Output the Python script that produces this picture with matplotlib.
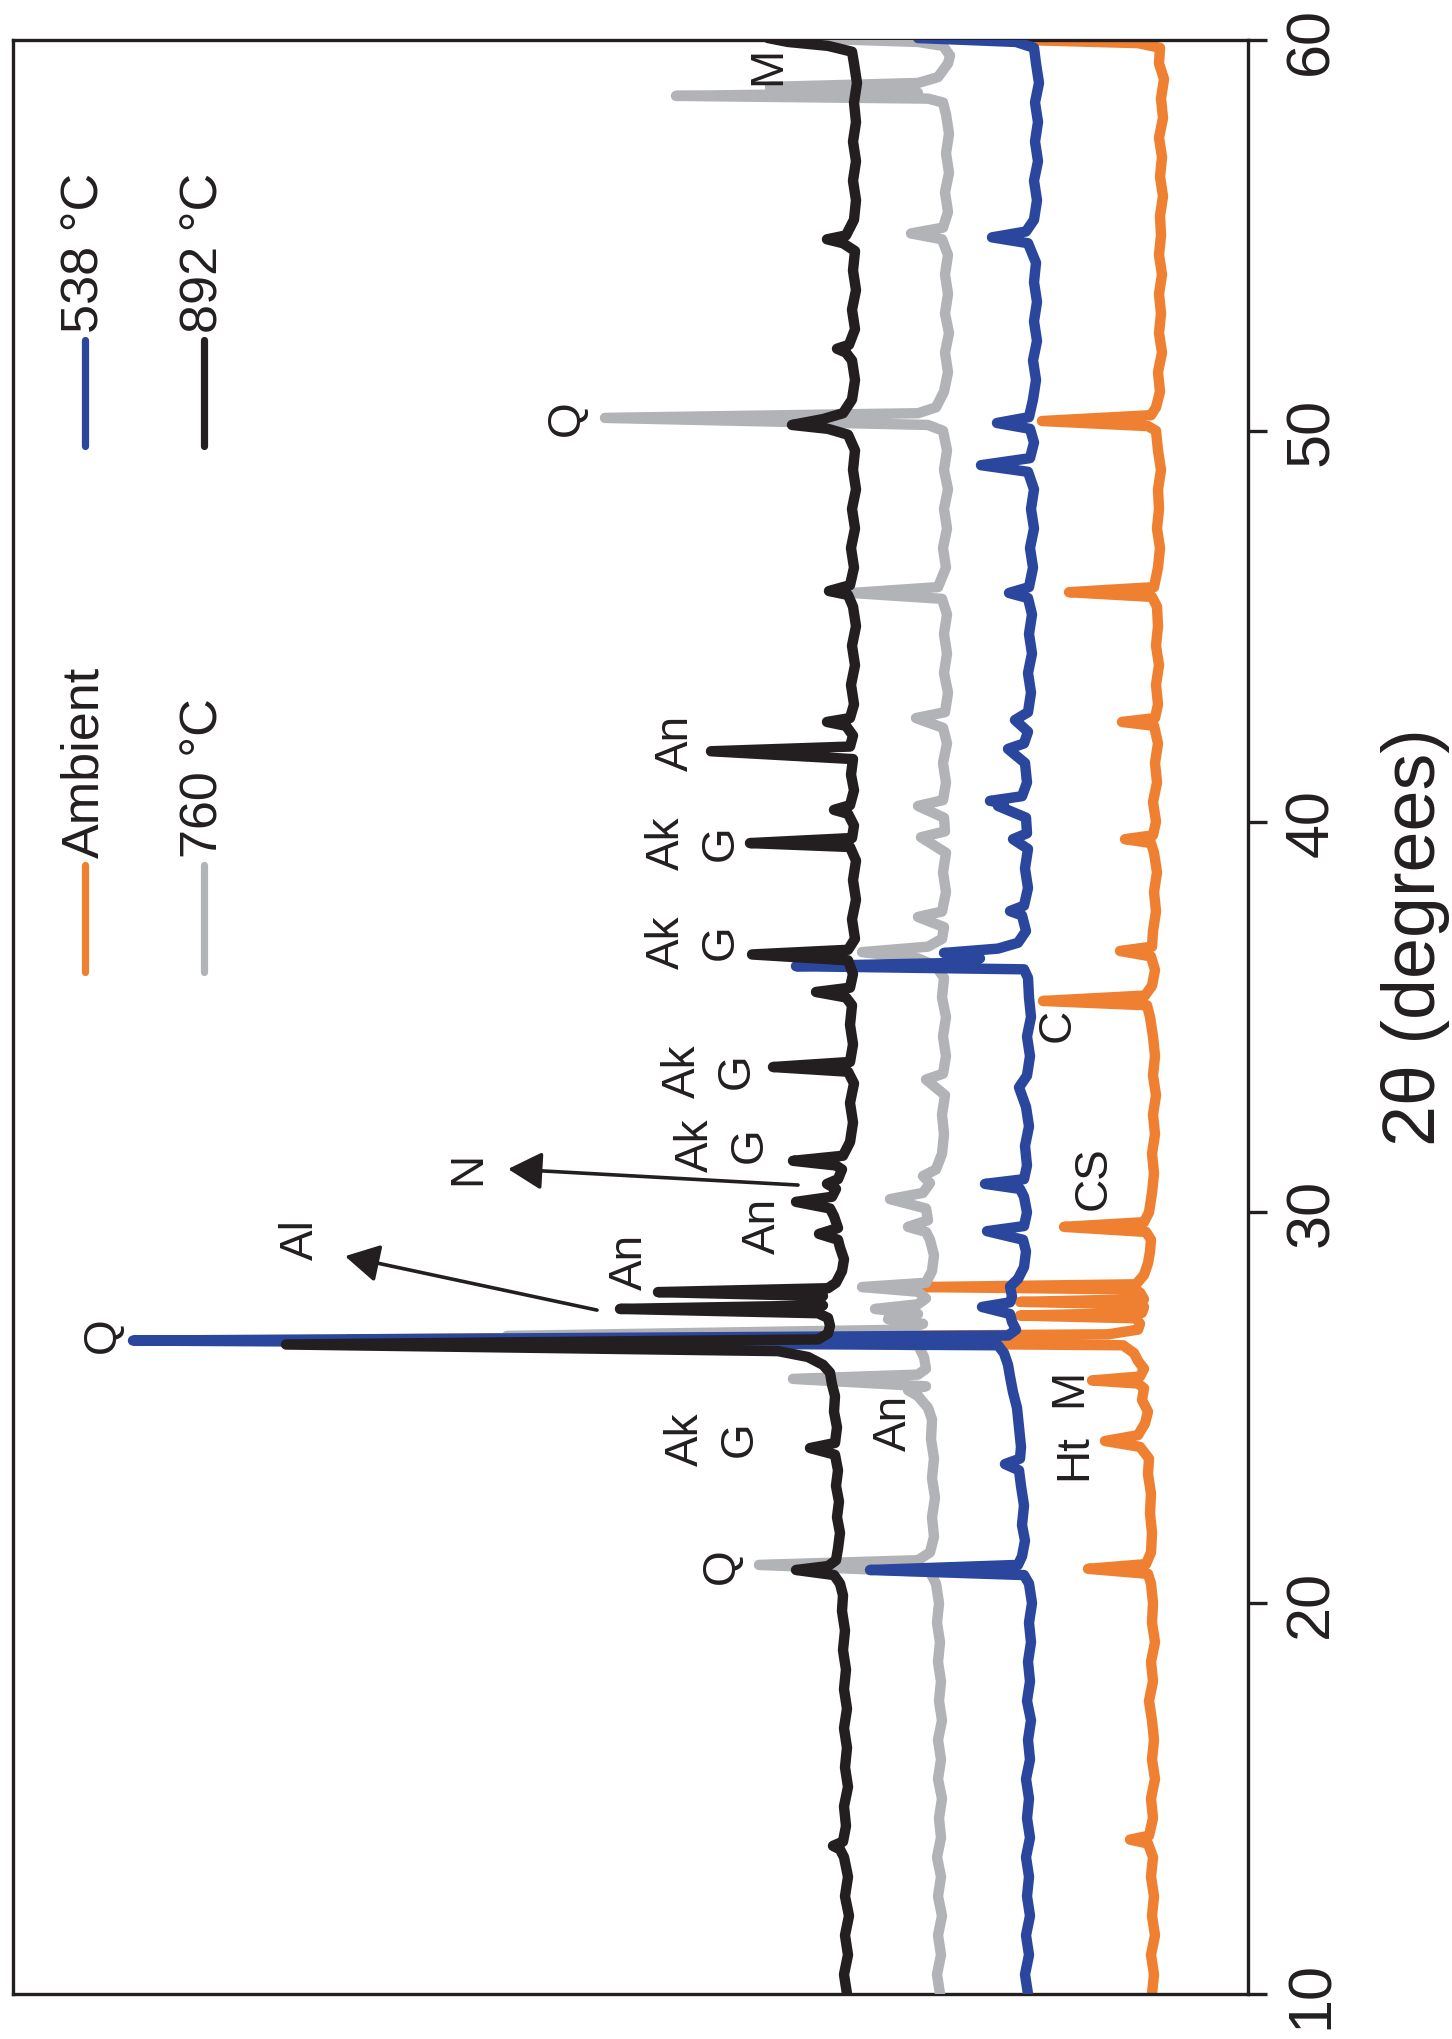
import matplotlib
matplotlib.use('Agg')
import matplotlib.pyplot as plt

plt.rcParams['font.family'] = ['Liberation Sans', 'DejaVu Sans']

# ---------------- data: (2theta [deg], stacked intensity [a.u.]) ----------------
AMBIENT = [
    (10.0, 96), (10.5, 94), (11.0, 97), (11.5, 93), (12.0, 96), (12.5, 94), (13.0, 97), (13.5, 95),
    (13.85, 100), (13.95, 118), (14.05, 99), (14.5, 95), (15.0, 97), (15.5, 93), (16.0, 96), (16.5, 94),
    (17.0, 96), (17.5, 99), (18.0, 95), (18.5, 97), (19.0, 93), (19.5, 96), (20.0, 95), (20.5, 97),
    (20.75, 100), (20.88, 160), (21.0, 102), (21.3, 97), (21.8, 96), (22.3, 98), (22.8, 97), (23.3, 100),
    (23.7, 99), (24.0, 108), (24.15, 143), (24.3, 110), (24.6, 103), (24.9, 100), (25.2, 106), (25.5, 104),
    (25.62, 110), (25.7, 156), (25.8, 108), (26.0, 104), (26.2, 110), (26.4, 114), (26.6, 125), (26.75, 900),
    (26.88, 140), (27.0, 110), (27.15, 108), (27.29, 112), (27.36, 228), (27.43, 106), (27.58, 104),
    (27.65, 110), (27.71, 228), (27.78, 104), (27.95, 108), (28.03, 114), (28.09, 325), (28.16, 112),
    (28.4, 104), (28.7, 100), (29.0, 98), (29.3, 97), (29.5, 102),
    (29.63, 184), (29.75, 104), (30.0, 99), (30.5, 96), (31.0, 94), (31.5, 96), (32.0, 93), (32.5, 95),
    (33.0, 92), (33.5, 95), (34.0, 93), (34.5, 95), (35.0, 98), (35.3, 101), (35.41, 205), (35.55, 103),
    (35.8, 96), (36.2, 93), (36.55, 97), (36.69, 128), (36.8, 96), (37.2, 95), (37.7, 92), (38.2, 94),
    (38.7, 91), (39.2, 94), (39.45, 97), (39.55, 123), (39.65, 95), (40.0, 92), (40.5, 95), (41.0, 91),
    (41.5, 93), (42.0, 90), (42.45, 94), (42.55, 126), (42.65, 93), (43.0, 90), (43.5, 92), (44.0, 89),
    (44.5, 92), (45.0, 90), (45.5, 91), (45.75, 96), (45.87, 179), (46.0, 94), (46.5, 90), (47.0, 88),
    (47.5, 91), (48.0, 89), (48.5, 90), (49.0, 87), (49.5, 90), (50.0, 92), (50.12, 100), (50.25, 206),
    (50.4, 97), (50.6, 92), (51.0, 88), (51.5, 90), (52.0, 86), (52.5, 89), (53.0, 87), (53.5, 89),
    (54.0, 86), (54.5, 89), (55.0, 87), (55.5, 88), (56.0, 85), (56.5, 88), (57.0, 86), (57.5, 89),
    (58.0, 85), (58.5, 87), (59.0, 84), (59.4, 89), (59.8, 88), (59.92, 110), (60.0, 225), (60.1, 320),
]

C538 = [
    (10.0, 220), (10.5, 223), (11.0, 219), (11.5, 222), (12.0, 218), (12.5, 221), (13.0, 219), (13.5, 222),
    (14.0, 218), (14.5, 221), (15.0, 219), (15.5, 222), (16.0, 218), (16.5, 220), (17.0, 217), (17.5, 221),
    (18.0, 218), (18.5, 220), (19.0, 217), (19.5, 219), (20.0, 216), (20.5, 219), (20.72, 224), (20.85, 378),
    (20.98, 230), (21.2, 226), (21.6, 223), (22.0, 226), (22.5, 224), (23.0, 227), (23.4, 229), (23.56, 243),
    (23.7, 228), (24.0, 227), (24.5, 229), (25.0, 231), (25.4, 235), (25.8, 238), (26.1, 240), (26.4, 244),
    (26.6, 250), (26.72, 1115), (26.85, 240), (27.0, 232), (27.2, 236), (27.4, 238), (27.58, 266), (27.7, 238),
    (27.85, 236), (28.1, 238), (28.3, 230), (28.6, 224), (29.0, 222), (29.3, 225), (29.52, 261), (29.65, 224),
    (30.0, 221), (30.4, 224), (30.6, 228), (30.73, 263), (30.85, 224), (31.2, 221), (31.7, 223), (32.2, 219),
    (32.7, 222), (33.2, 229), (33.5, 221), (34.0, 218), (34.5, 221), (35.0, 217), (35.5, 219), (36.0, 220),
    (36.22, 224), (36.3, 452), (36.38, 300), (36.5, 268), (36.64, 304), (36.75, 250), (36.9, 230), (37.2, 222),
    (37.6, 226), (37.71, 238), (37.85, 224), (38.3, 220), (38.8, 223), (39.3, 220), (39.55, 235), (39.7, 221),
    (40.1, 222), (40.4, 250), (40.47, 244), (40.53, 258), (40.65, 226), (41.0, 221), (41.5, 223), (41.86, 240),
    (42.0, 224), (42.3, 220), (42.6, 233), (42.8, 220), (43.3, 217), (43.8, 220), (44.3, 216), (44.8, 219),
    (45.3, 216), (45.72, 220), (45.85, 239), (46.0, 219), (46.5, 215), (47.0, 218), (47.5, 214), (48.0, 217),
    (48.5, 214), (48.95, 220), (49.12, 267), (49.3, 218), (49.7, 214), (50.05, 218), (50.2, 251), (50.35, 219),
    (50.8, 215), (51.3, 212), (51.8, 215), (52.3, 211), (52.8, 214), (53.3, 211), (53.8, 214), (54.3, 212),
    (54.8, 220), (54.95, 256), (55.1, 222), (55.4, 214), (55.9, 211), (56.4, 214), (56.9, 210), (57.4, 213),
    (57.9, 210), (58.4, 213), (58.9, 209), (59.4, 212), (59.8, 214), (59.95, 232), (60.05, 330),
]

C760 = [
    (10.0, 308), (10.5, 311), (11.0, 307), (11.5, 310), (12.0, 306), (12.5, 310), (13.0, 307), (13.5, 311),
    (14.0, 307), (14.5, 309), (15.0, 306), (15.5, 310), (16.0, 307), (16.5, 310), (17.0, 306), (17.5, 309),
    (18.0, 307), (18.5, 310), (19.0, 308), (19.5, 311), (20.0, 309), (20.5, 312), (20.8, 318), (20.98, 489),
    (21.1, 330), (21.3, 318), (21.7, 314), (22.2, 316), (22.7, 313), (23.2, 316), (23.7, 314), (24.2, 317),
    (24.7, 316), (25.0, 320), (25.3, 330), (25.45, 340), (25.55, 322), (25.74, 455), (25.85, 330), (26.0, 322),
    (26.3, 324), (26.6, 330), (26.84, 741), (27.0, 340), (27.15, 325), (27.27, 360), (27.4, 330), (27.53, 373),
    (27.65, 330), (27.8, 322), (27.97, 330), (28.09, 386), (28.2, 322), (28.5, 316), (28.9, 314), (29.3, 318),
    (29.5, 322), (29.63, 340), (29.8, 320), (30.1, 322), (30.34, 358), (30.5, 325), (30.75, 318), (30.93, 325),
    (31.1, 312), (31.5, 306), (32.0, 304), (32.5, 306), (33.0, 303), (33.4, 322), (33.55, 305), (34.0, 302),
    (34.5, 305), (35.0, 302), (35.5, 306), (36.0, 304), (36.3, 312), (36.5, 330), (36.66, 386), (36.8, 320),
    (37.0, 306), (37.3, 304), (37.56, 330), (37.7, 306), (38.2, 302), (38.7, 305), (39.2, 302), (39.6, 327),
    (39.75, 303), (40.1, 304), (40.4, 330), (40.55, 305), (41.0, 302), (41.5, 305), (42.0, 301), (42.4, 305),
    (42.65, 332), (42.8, 303), (43.3, 300), (43.8, 304), (44.3, 301), (44.8, 304), (45.3, 301), (45.7, 306),
    (45.85, 396), (46.0, 310), (46.5, 302), (47.0, 305), (47.5, 301), (48.0, 304), (48.5, 300), (49.0, 304),
    (49.5, 301), (50.0, 305), (50.15, 320), (50.33, 643), (50.45, 330), (50.6, 312), (51.0, 304), (51.5, 300),
    (52.0, 303), (52.5, 299), (53.0, 303), (53.5, 300), (54.0, 303), (54.5, 300), (54.9, 306), (55.05, 337),
    (55.2, 305), (55.6, 300), (56.1, 303), (56.6, 299), (57.1, 302), (57.6, 299), (58.1, 302), (58.4, 305),
    (58.5, 320), (58.57, 572), (58.65, 330), (58.72, 340), (58.8, 478), (58.9, 330), (59.05, 310), (59.4, 300),
    (59.6, 298), (59.85, 305), (59.95, 330), (60.05, 450),
]

C892 = [
    (10.0, 401), (10.5, 404), (11.0, 400), (11.5, 403), (12.0, 399), (12.5, 403), (13.0, 400), (13.5, 404),
    (13.7, 408), (13.79, 415), (13.9, 405), (14.3, 402), (14.8, 404), (15.3, 400), (15.8, 403), (16.3, 401),
    (16.8, 404), (17.3, 401), (17.8, 404), (18.3, 402), (18.8, 405), (19.3, 403), (19.8, 406), (20.2, 405),
    (20.5, 408), (20.72, 414), (20.85, 452), (20.95, 420), (21.1, 412), (21.4, 410), (21.8, 408), (22.2, 411),
    (22.6, 409), (23.0, 412), (23.4, 410), (23.8, 413), (23.97, 438), (24.1, 413), (24.5, 411), (24.9, 414),
    (25.3, 413), (25.6, 416), (25.9, 418), (26.1, 425), (26.3, 440), (26.45, 470), (26.62, 962), (26.75, 430),
    (26.9, 420), (27.1, 418), (27.3, 420), (27.42, 430), (27.53, 628), (27.62, 425), (27.7, 430), (27.78, 442),
    (27.86, 425), (27.96, 590), (28.06, 420), (28.2, 412), (28.5, 406), (28.8, 404), (29.1, 408), (29.3, 410),
    (29.45, 429), (29.6, 410), (29.9, 414), (30.1, 418), (30.27, 452), (30.4, 416), (30.6, 412), (30.73, 421),
    (30.85, 410), (31.1, 406), (31.2, 412), (31.32, 455), (31.45, 405), (31.8, 398), (32.3, 395), (32.8, 398),
    (33.3, 394), (33.6, 400), (33.72, 475), (33.85, 398), (34.3, 395), (34.8, 398), (35.3, 396), (35.5, 402),
    (35.64, 432), (35.75, 398), (36.1, 395), (36.45, 400), (36.6, 496), (36.72, 400), (37.0, 393), (37.5, 396),
    (38.0, 392), (38.5, 395), (39.0, 392), (39.35, 398), (39.45, 498), (39.58, 396), (39.9, 394), (40.2, 400),
    (40.3, 414), (40.42, 398), (40.8, 394), (41.2, 397), (41.6, 395), (41.8, 537), (41.92, 398), (42.2, 395),
    (42.45, 402), (42.55, 421), (42.65, 398), (43.0, 394), (43.5, 397), (44.0, 393), (44.5, 396), (45.0, 392),
    (45.5, 395), (45.8, 400), (45.9, 419), (46.05, 398), (46.5, 394), (47.0, 397), (47.5, 393), (48.0, 396),
    (48.5, 392), (49.0, 395), (49.5, 393), (49.9, 400), (50.05, 420), (50.15, 456), (50.3, 425), (50.45, 405),
    (50.8, 396), (51.3, 393), (51.8, 396), (52.0, 402), (52.1, 411), (52.2, 399), (52.6, 393), (53.1, 396),
    (53.6, 392), (54.1, 395), (54.6, 393), (54.8, 405), (54.9, 421), (55.0, 402), (55.4, 394), (55.9, 392),
    (56.4, 395), (56.9, 392), (57.4, 395), (57.9, 392), (58.4, 394), (58.9, 391), (59.4, 394), (59.7, 396),
    (59.85, 420), (59.95, 460), (60.05, 480),
]

SERIES = [AMBIENT, C760, C538, C892]
SERIES_LABELS = ['Ambient', '760 °C', '538 °C', '892 °C']
SERIES_COLORS = ['#EF8031', '#B2B3B6', '#2B479D', '#231F20']
SERIES_Z = [2, 3, 4, 5]

TICKS = [10, 20, 30, 40, 50, 60]
X_LABEL = '2θ (degrees)'

# phase annotations: (text, intensity position, 2theta position)
PHASES = [
    ('Q', 1145, 26.89), ('Al', 947, 29.32), ('N', 780, 31.16),
    ('An', 618, 28.76), ('An', 485, 29.68),
    ('Ak\nG', 525, 31.75), ('Ak\nG', 538, 33.64), ('Ak\nG', 554, 36.94),
    ('Ak\nG', 554, 39.48), ('An', 572, 42.04), ('Ak\nG', 535, 24.23),
    ('An', 354, 24.65), ('M', 179, 25.54), ('Ht', 174, 23.77),
    ('Q', 526, 20.98), ('CS', 154, 30.9), ('C', 190, 34.82),
    ('Q', 681, 50.35), ('M', 480, 59.36),
]
# arrows: (tail intensity, tail 2theta, tip intensity, tip 2theta)
ARROWS = [(651, 27.5, 903, 28.88), (450, 30.7, 740, 31.11)]

INK = '#231F20'

fig = plt.figure(figsize=(14.52, 20.40), dpi=100)
ax = fig.add_axes([13 / 1452, 45 / 2040, 1235 / 1452, 1954 / 2040])

for data, col, z in zip(SERIES, SERIES_COLORS, SERIES_Z):
    tt = [p[0] for p in data]
    inten = [p[1] for p in data]
    ax.plot(inten, tt, color=col, lw=7.5, solid_joinstyle='round',
            solid_capstyle='round', zorder=z)

ax.set_xlim(1235, 0)
ax.set_ylim(10, 60)
ax.set_xticks([])
ax.yaxis.tick_right()
ax.set_yticks(TICKS)
ax.tick_params(axis='y', direction='out', length=13.7, width=2.4, pad=12,
               labelsize=44, labelrotation=90, color=INK, labelcolor=INK)
for t in ax.yaxis.get_major_ticks():
    t.label2.set_va('center')
for sp in ax.spines.values():
    sp.set_linewidth(2.4)
    sp.set_color(INK)

ax.yaxis.set_label_position('right')
ax.set_ylabel(X_LABEL, fontsize=53, rotation=90, color=INK)
ax.yaxis.set_label_coords(1.1077, 0.5415)

# phase labels
for txt, xi, yt in PHASES:
    ax.text(xi, yt, txt, rotation=90, ha='center', va='center', fontsize=33,
            color=INK, linespacing=1.3, multialignment='center', zorder=6)

for x0, y0, x1, y1 in ARROWS:
    ax.annotate('', xy=(x1, y1), xytext=(x0, y0),
                arrowprops=dict(arrowstyle='-|>,head_length=1.04,head_width=0.58',
                                mutation_scale=20, lw=2.6, color=INK,
                                shrinkA=0, shrinkB=0), zorder=6)

# legend (rotated, drawn in axes coordinates)
leg_pos = [(0.0583, 0.5230, 0.5778), (0.1547, 0.5230, 0.5778),
           (0.0583, 0.7922, 0.8465), (0.1547, 0.7922, 0.8465)]
for (xa, y0, y1), lab, col in zip(leg_pos, SERIES_LABELS, SERIES_COLORS):
    ax.plot([xa, xa], [y0, y1], transform=ax.transAxes, color=col, lw=5.2,
            solid_capstyle='round', zorder=7)
    ax.text(xa, y1 + 0.004, lab, transform=ax.transAxes, rotation=90,
            rotation_mode='anchor', ha='left', va='center', fontsize=37.5,
            color=INK, zorder=7)

fig.savefig('out.png', dpi=100)
